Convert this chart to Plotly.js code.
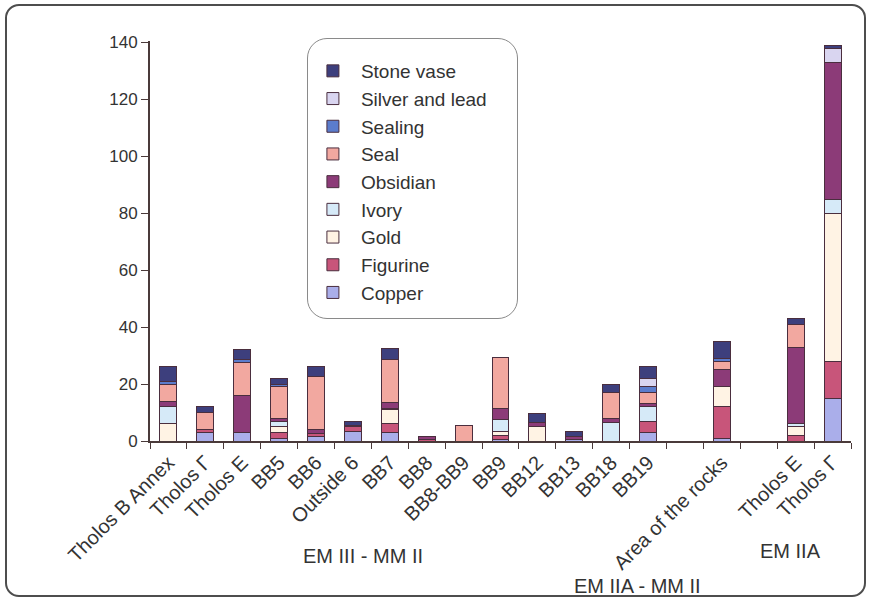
<!DOCTYPE html>
<html>
<head>
<meta charset="utf-8">
<script src="https://cdn.plot.ly/plotly-3.0.1.min.js"></script>
<style>
  html, body { margin: 0; padding: 0; background: #ffffff; }
  #wrap { position: relative; width: 869px; height: 599px; }
  #chart { position: absolute; left: 0; top: 0; width: 869px; height: 599px; }
  #frame { position: absolute; left: 5px; top: 4px; width: 857px; height: 589px;
           border: 2px solid #4d4d4d; border-radius: 14px; pointer-events: none; }
  #legbox { position: absolute; left: 307px; top: 38px; width: 209px; height: 279px;
            border: 1.5px solid #8a8a8a; border-radius: 20px; pointer-events: none; }
</style>
</head>
<body>
<div id="wrap">
  <div id="chart"></div>
  <div id="legbox"></div>
  <div id="frame"></div>
</div>
<script>
// Categories (two repeated names made distinct with a zero-width space; gaps are blank slots)
const categories = ["Tholos B Annex","Tholos \u0393","Tholos E","BB5","BB6","Outside 6","BB7","BB8","BB8-BB9","BB9","BB12","BB13","BB18","BB19","\u200b","Area of the rocks","\u200b\u200b","Tholos E\u200b","Tholos \u0393\u200b"];

// Series values (bottom to top of the stack)
const copper   = [0, 3, 3,   1, 1.5, 3.5, 3,   0,   0,   0.5, 0,   0.5, 0,   3, null, 1,  null, 0,  15];
const figurine = [0, 1, 0,   2, 1,   1.5, 3,   0.5, 0,   1.5, 0,   0,   0,   4, null, 11, null, 2,  13];
const gold     = [6, 0, 0,   2, 0,   0,   5,   0,   0,   1.5, 5,   0,   0,   0, null, 7,  null, 3,  52];
const ivory    = [6, 0, 0,   2, 0,   0,   0.5, 0,   0,   4,   0,   0,   6.5, 5, null, 0,  null, 1,  5];
const obsidian = [2, 0, 13,  1, 1.5, 0.5, 2,   1,   0,   4,   1.5, 1,   1.5, 1, null, 6,  null, 27, 48];
const seal     = [6, 6, 11.5,11,18.5,0,   15,  0,   5.5, 18,  0,   0,   9,   4, null, 3,  null, 8,  0];
const sealing  = [1, 0, 1,   1, 0,   0,   0,   0,   0,   0,   0,   0,   0,   2, null, 1,  null, 0,  0];
const silver   = [0, 0, 0,   0, 0,   0,   0,   0,   0,   0,   0,   0,   0,   3, null, 0,  null, 0,  5];
const stone    = [5, 2, 3.5, 2, 3.5, 1.2, 4,   0,   0,   0,   3,   2,   3,   4, null, 6,  null, 2,  1];

const seriesNames = ["Copper","Figurine","Gold","Ivory","Obsidian","Seal","Sealing","Silver and lead","Stone vase"];
const seriesData  = [copper, figurine, gold, ivory, obsidian, seal, sealing, silver, stone];
const seriesColors = ["#aaaeea","#c8557a","#fff3e4","#d6eaf8","#8c3b78","#f2a8a0","#5b7ccc","#d9d5f0","#3d3f7d"];

const yTicks = [0, 20, 40, 60, 80, 100, 120, 140];

const traces = seriesNames.map((name, i) => ({
  type: "bar",
  name: name,
  x: categories,
  y: seriesData[i].map(v => (v === 0 ? null : v)),
  legendrank: seriesNames.length - i,
  marker: { color: seriesColors[i], line: { color: "#4a2e3e", width: 1 } },
  hoverinfo: "x+y+name"
}));

const font = "Liberation Sans, Arial, sans-serif";
const layout = {
  width: 869, height: 599,
  margin: { l: 150, r: 18, t: 41, b: 158 },
  paper_bgcolor: "rgba(0,0,0,0)",
  plot_bgcolor: "rgba(0,0,0,0)",
  barmode: "stack",
  bargap: 0.54,
  font: { family: font, color: "#333333", size: 17 },
  showlegend: true,
  legend: {
    x: 0.221, y: 0.9725, xanchor: "left", yanchor: "top",
    traceorder: "normal",
    itemwidth: 46,
    bgcolor: "rgba(0,0,0,0)",
    borderwidth: 0,
    font: { family: font, size: 19, color: "#333333" }
  },
  xaxis: {
    type: "category",
    categoryorder: "array",
    categoryarray: categories,
    tickangle: -45,
    tickson: "boundaries",
    ticks: "outside", ticklen: 6, tickcolor: "#4a3a3a", tickwidth: 1,
    showline: true, linecolor: "#4a3a3a", linewidth: 2,
    showgrid: false, zeroline: false,
    tickfont: { family: font, size: 20, color: "#333333" },
    fixedrange: true
  },
  yaxis: {
    range: [0, 140.5],
    tickvals: yTicks,
    ticks: "outside", ticklen: 7, tickcolor: "#4a3a3a",
    showline: true, linecolor: "#4a3a3a", linewidth: 2,
    showgrid: false, zeroline: false,
    tickfont: { family: font, size: 17, color: "#333333" },
    fixedrange: true
  },
  annotations: [
    { text: "EM III - MM II", xref: "paper", yref: "paper", x: 0.304, y: -0.2875, xanchor: "center", yanchor: "middle", showarrow: false, font: { family: font, size: 20, color: "#333333" } },
    { text: "EM IIA - MM II", xref: "paper", yref: "paper", x: 0.695, y: -0.3625, xanchor: "center", yanchor: "middle", showarrow: false, font: { family: font, size: 20, color: "#333333" } },
    { text: "EM IIA", xref: "paper", yref: "paper", x: 0.913, y: -0.275, xanchor: "center", yanchor: "middle", showarrow: false, font: { family: font, size: 20, color: "#333333" } }
  ]
};

Plotly.newPlot("chart", traces, layout, { displayModeBar: false, staticPlot: true });
</script>
</body>
</html>
